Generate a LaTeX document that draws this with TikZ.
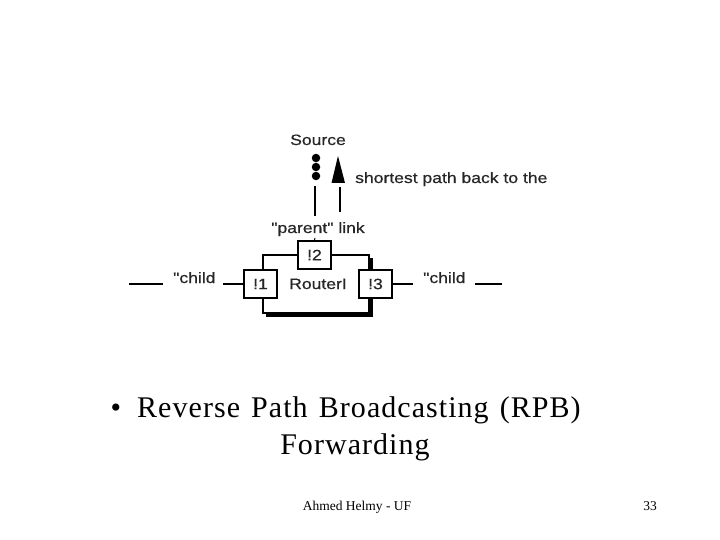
\documentclass[tikz,border=0pt]{standalone}
\usepackage{fontspec}
\setmainfont{Liberation Serif}
\newfontfamily\diagfont[FakeStretch=1.17,FakeBold=0.6]{Liberation Sans}
\newfontfamily\slidefont[LetterSpace=3.5,WordSpace=1.3]{Liberation Serif}
\begin{document}
\begin{tikzpicture}[x=1pt,y=-1pt,
  lbl/.style={font=\diagfont\fontsize{15}{15}\selectfont, text=black!85, inner sep=0pt, anchor=base},
  port/.style={draw=black, fill=white, line width=1.3pt, minimum width=33pt, minimum height=28pt, inner sep=0pt, font=\diagfont\fontsize{15}{15}\selectfont, text=black!85},
  wire/.style={line width=2pt, black},
  dotc/.style={circle, fill=black, minimum size=8.5pt, inner sep=0pt}]
\useasboundingbox (0,0) rectangle (720,540);

% labels
\node[lbl] (src) at (318,145) {Source};
\node[lbl, anchor=base west] (spath) at (355,183) {shortest path back to the};
\node[lbl] (plink) at (318,233) {"parent" link};
\node[lbl, anchor=base west] (lchild) at (173,283) {"child};
\node[lbl, anchor=base west] (rchild) at (423,283) {"child};

% source dots
\node[dotc] (d1) at (316,158) {};
\node[dotc] (d2) at (316,167) {};
\node[dotc] (d3) at (316,176) {};
\coordinate (pl1) at (315,186);
\coordinate (pl2) at (315,216);
\draw[wire] (pl1) -- (pl2);

% arrow
\coordinate (at) at (338,156);
\coordinate (abl) at (331.5,183);
\coordinate (abr) at (345,183);
\fill (at) -- (abr) -- (abl) -- cycle;
\coordinate (al1) at (340,187);
\coordinate (al2) at (340,212);
\draw[wire] (al1) -- (al2);

% router
\fill[black] (266,258) rectangle (373,317);
\draw[line width=1.5pt, fill=white] (263,255) rectangle (369,313);
\node[lbl] (router) at (318,289) {RouterI};

\node[port] (p2) at (314.5,255) {!2};
\node[port] (p1) at (260.5,284) {!1};
\node[port] (p3) at (375.5,284) {!3};
\coordinate (tick) at (315,238);
\draw[line width=1pt] (tick) -- (p2.north);

% side connectors
\coordinate (ll1) at (129,284);
\coordinate (ll2) at (163,284);
\draw[wire] (ll1) -- (ll2);
\coordinate (lc) at (223,284);
\draw[wire] (lc) -- (p1.west);
\coordinate (rc) at (413,284);
\draw[wire] (p3.east) -- (rc);
\coordinate (rl1) at (475,284);
\coordinate (rl2) at (502,284);
\draw[wire] (rl1) -- (rl2);

% slide text
\node[anchor=base, inner sep=0pt, font=\fontsize{30}{30}\selectfont] (bul) at (116,417) {\textbullet};
\node[anchor=base west, inner sep=0pt, font=\slidefont\fontsize{30}{30}\selectfont] (t1) at (137,417) {Reverse Path Broadcasting (RPB)};
\node[anchor=base, inner sep=0pt, font=\slidefont\fontsize{30}{30}\selectfont] (t2) at (355,454) {Forwarding};
\node[anchor=base, inner sep=0pt, font=\fontsize{13.5}{13.5}\selectfont] (foot) at (357,510) {Ahmed Helmy - UF};
\node[anchor=base, inner sep=0pt, font=\fontsize{13.5}{13.5}\selectfont] (num) at (650,510) {33};
\end{tikzpicture}
\end{document}
